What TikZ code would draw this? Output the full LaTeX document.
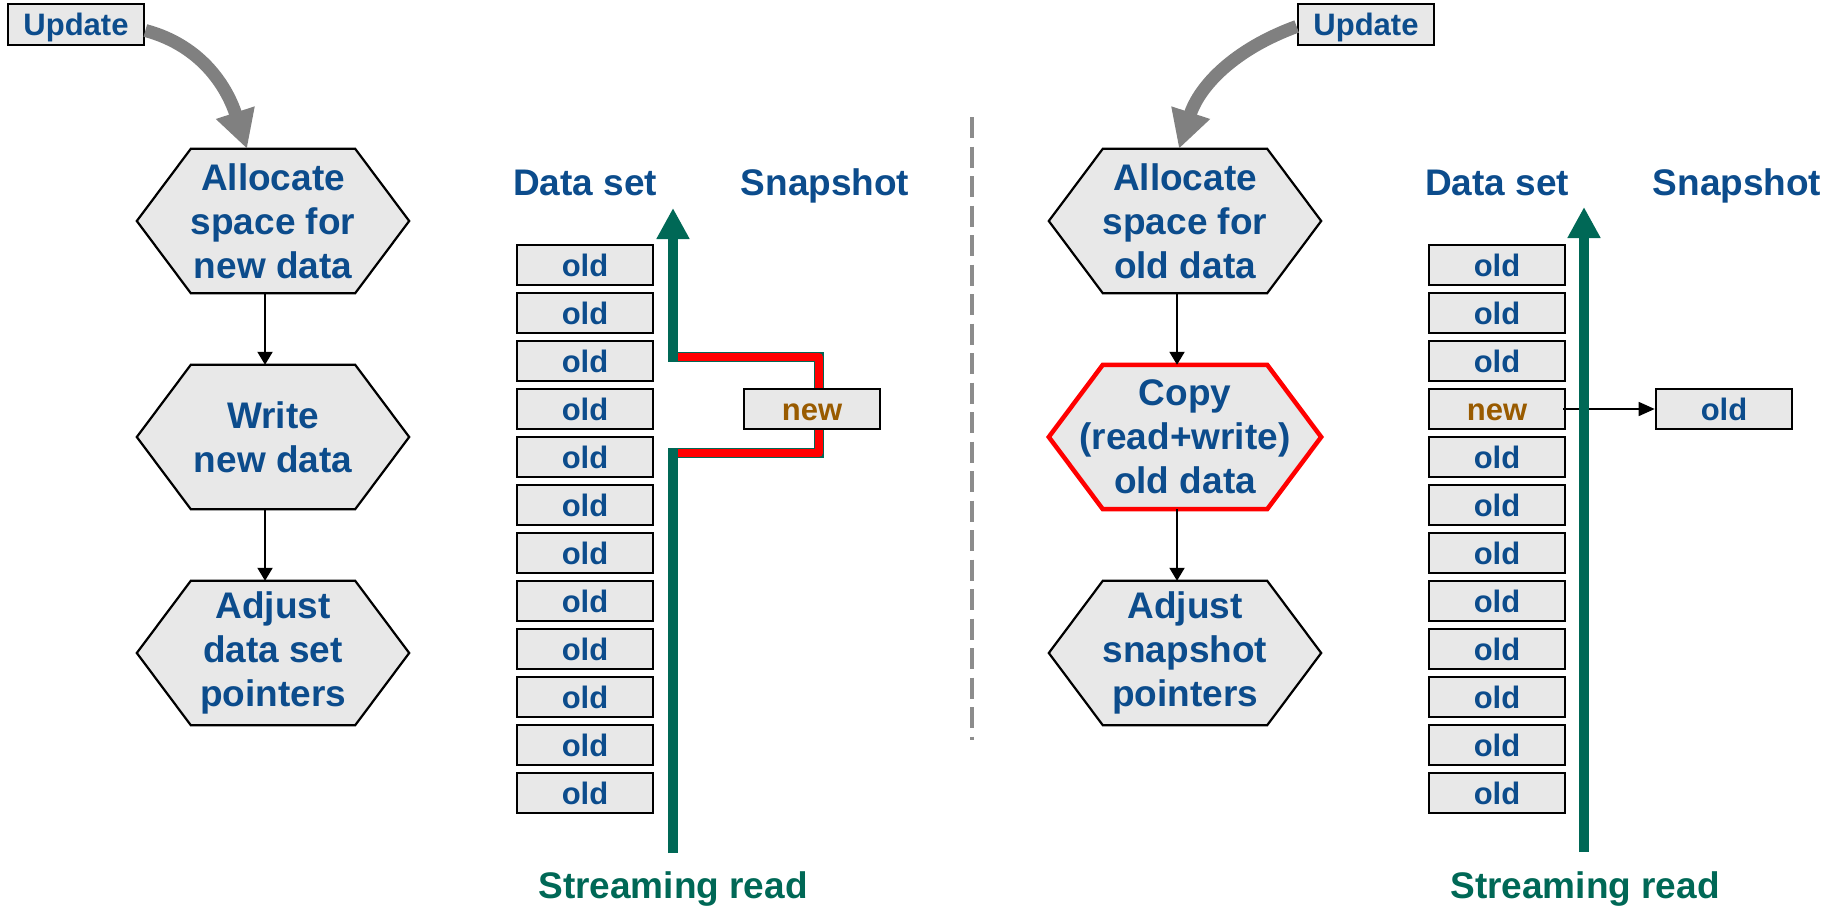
\documentclass[tikz,border=0pt]{standalone}
\usepackage{fontspec}
\setmainfont{Liberation Sans}
\usetikzlibrary{arrows.meta,backgrounds}

\definecolor{txtblue}{RGB}{12,76,140}
\definecolor{boxfill}{RGB}{232,232,232}
\definecolor{streamgreen}{RGB}{0,104,86}
\definecolor{newbrown}{RGB}{153,91,0}
\definecolor{updgray}{RGB}{128,128,128}
\definecolor{divgray}{RGB}{140,140,140}

\tikzset{
  hexnode/.style={minimum width=272pt, minimum height=144pt, inner sep=0pt,
    align=center, text=txtblue, font=\fontsize{37}{44}\selectfont\bfseries},
  hexline/.style={draw=black, line width=2.2pt, fill=boxfill},
  hexred/.style={draw=red, line width=4.5pt, fill=boxfill},
  cell/.style={draw=black, line width=2.7pt, fill=boxfill, minimum width=136pt,
    minimum height=40pt, inner sep=0pt, text=txtblue,
    text height=22.5pt, text depth=0pt,
    font=\fontsize{31}{31}\selectfont\bfseries},
  newcell/.style={cell, text=newbrown},
  updbox/.style={cell, minimum height=41pt},
  heading/.style={text=txtblue, font=\fontsize{37}{44}\selectfont\bfseries,
    anchor=base, inner sep=0pt},
  streamlabel/.style={heading, text=streamgreen},
  flow/.style={draw=black, line width=2pt, -{Triangle[length=13pt,width=15pt]}},
  ptr/.style={draw=black, line width=1.6pt, -{Triangle[length=16pt,width=14pt]}},
  updarrow/.style={draw=updgray, line width=13pt, -{Triangle[length=38pt,width=38pt]}},
  stream/.style={draw=streamgreen, line width=10.5pt, -{Triangle[length=31pt,width=31pt]}},
  bypass/.style={draw=red, line width=7.5pt, line join=round},
  divider/.style={draw=divgray, line width=3.5pt, dash pattern=on 21pt off 8.5pt},
}

% hexagonal frame drawn round a named node
\newcommand\hexoutline[2]{%
  \path[#2] (#1.west) -- ([xshift=54pt]#1.north west) -- ([xshift=-54pt]#1.north east)
    -- (#1.east) -- ([xshift=-54pt]#1.south east) -- ([xshift=54pt]#1.south west) -- cycle;}

\begin{document}
\begin{tikzpicture}[x=1pt,y=1pt]
\useasboundingbox (0,0) rectangle (1837,-907);

% ---------- left: redirect-on-write ----------
\node[updbox] (updL) at (76,-24.5) {Update};
\node[hexnode] (hL1) at (273,-221) {Allocate\\space for\\new data};
\node[hexnode] (hL2) at (273,-437) {Write\\new data};
\node[hexnode] (hL3) at (273,-653) {Adjust\\data set\\pointers};
\begin{scope}[on background layer]
  \hexoutline{hL1}{hexline}
  \hexoutline{hL2}{hexline}
  \hexoutline{hL3}{hexline}
\end{scope}
\draw[updarrow] ([yshift=-6pt]updL.east) to[out=-15,in=108] ([xshift=-26pt]hL1.north);
\draw[flow] ([xshift=-8pt]hL1.south) -- ([xshift=-8pt]hL2.north);
\draw[flow] ([xshift=-8pt]hL2.south) -- ([xshift=-8pt]hL3.north);

\node[heading] (dsL) at (585,-195) {Data set};
\node[heading] (ssL) at (825,-195) {Snapshot};
\foreach \i in {0,...,11}
  \node[cell] (dL\i) at (585,{-265-48*\i}) {old};

\coordinate (readL0) at (673,-853);
\coordinate (readL1) at (673,-208);
\draw[stream] (readL0) -- (673,-453) -- (819,-453) -- (819,-357) -- (673,-357) -- (readL1);
\draw[bypass] (678,-453) -- (819,-453) -- (819,-357) -- (678,-357);
\node[newcell] (newL) at (812,-409) {new};
\node[streamlabel] (srL) at (673,-898) {Streaming read};

% ---------- divider ----------
\coordinate (divTop) at (972,-117);
\coordinate (divBot) at (972,-740);
\draw[divider] (divTop) -- (divBot);

% ---------- right: copy-on-write ----------
\node[updbox] (updR) at (1366,-24.5) {Update};
\node[hexnode] (hR1) at (1185,-221) {Allocate\\space for\\old data};
\node[hexnode] (hR2) at (1185,-437) {Copy\\(read+write)\\old data};
\node[hexnode] (hR3) at (1185,-653) {Adjust\\snapshot\\pointers};
\begin{scope}[on background layer]
  \hexoutline{hR1}{hexline}
  \hexoutline{hR2}{hexred}
  \hexoutline{hR3}{hexline}
\end{scope}
\draw[updarrow] ([yshift=-2pt]updR.west) to[out=200,in=72] ([xshift=-6pt]hR1.north);
\draw[flow] ([xshift=-8pt]hR1.south) -- ([xshift=-8pt]hR2.north);
\draw[flow] ([xshift=-8pt]hR2.south) -- ([xshift=-8pt]hR3.north);

\node[heading] (dsR) at (1497,-195) {Data set};
\node[heading] (ssR) at (1737,-195) {Snapshot};
\foreach \i in {0,1,2,4,5,6,7,8,9,10,11}
  \node[cell] (dR\i) at (1497,{-265-48*\i}) {old};
\node[newcell] (dR3) at (1497,-409) {new};
\node[cell] (snapR) at (1724,-409) {old};
\draw[ptr] ([xshift=-3pt]dR3.east) -- (snapR.west);

\coordinate (readR0) at (1584,-852);
\coordinate (readR1) at (1584,-207);
\draw[stream] (readR0) -- (readR1);
\node[streamlabel] (srR) at (1585,-898) {Streaming read};
\end{tikzpicture}
\end{document}
